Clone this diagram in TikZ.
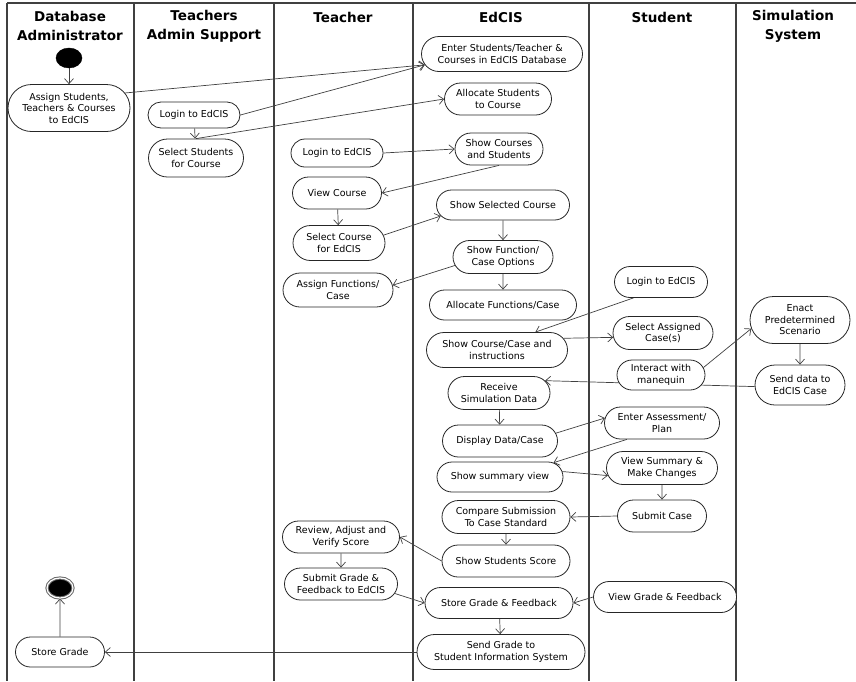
\documentclass[tikz,border=0pt]{standalone}
\usepackage{fontspec}
\setmainfont{DejaVu Sans}
\usetikzlibrary{shapes.misc,shapes.geometric,arrows.meta}
\pgfdeclarelayer{lanes}
\pgfdeclarelayer{edges}
\pgfsetlayers{lanes,edges,main}
\tikzset{
  act/.style args={#1/#2}{rounded rectangle, draw=black!85, line width=0.8pt, fill=white,
    minimum width={#1pt-16pt}, minimum height=#2pt, inner xsep=-8pt, inner ysep=1pt,
    align=center, font=\fontsize{9.5}{11.5}\selectfont},
  hdr/.style={font=\fontsize{13.5}{19}\selectfont\bfseries, align=center, inner sep=0pt},
  flow/.style={draw=black!75, line width=0.7pt, -{Straight Barb[length=5pt,width=9pt]}},
  lane/.style={draw=black!75, line width=1.2pt}
}
\begin{document}
\begin{tikzpicture}[x=1pt,y=-1pt]
\useasboundingbox (0,0) rectangle (856,681);
% headers
\node[hdr] (h1) at (70,26) {Database\\Administrator};
\node[hdr] (h2) at (204,26) {Teachers\\Admin Support};
\node[hdr] (h3) at (343,17) {Teacher};
\node[hdr] (h4) at (501,17) {EdCIS};
\node[hdr] (h5) at (662,17) {Student};
\node[hdr] (h6) at (793,26) {Simulation\\System};
% nodes
\node[ellipse, fill=black, draw=black, minimum width=26pt, minimum height=20pt, inner sep=0pt] (start) at (69,58) {};
\node[act=122/47] (assign) at (69,108) {Assign Students,\\Teachers \& Courses\\to EdCIS};
\node[act=92/26] (tlogin) at (194,115) {Login to EdCIS};
\node[act=95/38] (tsel) at (196,158) {Select Students\\for Course};
\node[act=161/35] (enter) at (502,54) {Enter Students/Teacher \&\\Courses in EdCIS Database};
\node[act=107/32] (alloc) at (498,99) {Allocate Students\\to Course};
\node[act=88/32] (showcs) at (499,149) {Show Courses\\and Students};
\node[act=92/28] (login) at (337,153) {Login to EdCIS};
\node[act=89/32] (view) at (337,193) {View Course};
\node[act=92/35] (selc) at (339,243) {Select Course\\for EdCIS};
\node[act=110/34] (assignf) at (338,290) {Assign Functions/\\Case};
\node[act=133/30] (showsel) at (503,205) {Show Selected Course};
\node[act=100/33] (showfn) at (503,257) {Show Function/\\Case Options};
\node[act=147/30] (allocf) at (503,305) {Allocate Functions/Case};
\node[act=93/31] (slogin) at (661,282) {Login to EdCIS};
\node[act=141/35] (showcc) at (497,350) {Show Course/Case and\\instructions};
\node[act=100/33] (selas) at (663,333) {Select Assigned\\Case(s)};
\node[act=88/30] (interact) at (661,375) {Interact with\\manequin};
\node[act=100/47] (enact) at (800,320) {Enact\\Predetermined\\Scenario};
\node[act=90/40] (senddata) at (800,385) {Send data to\\EdCIS Case};
\node[act=102/33] (receive) at (499,393) {Receive\\Simulation Data};
\node[act=115/32] (display) at (500,441) {Display Data/Case};
\node[act=115/32] (enterass) at (662,423) {Enter Assessment/\\Plan};
\node[act=126/30] (summary) at (500,477) {Show summary view};
\node[act=111/33] (viewsum) at (662,468) {View Summary \&\\Make Changes};
\node[act=89/32] (submit) at (662,516) {Submit Case};
\node[act=128/33] (compare) at (506,517) {Compare Submission\\To Case Standard};
\node[act=128/32] (score) at (506,561) {Show Students Score};
\node[act=117/32] (review) at (341,537) {Review, Adjust and\\Verify Score};
\node[act=113/32] (subgrade) at (341,584) {Submit Grade \&\\Feedback to EdCIS};
\node[act=148/31] (storegf) at (499,603) {Store Grade \& Feedback};
\node[act=143/31] (viewgf) at (665,597) {View Grade \& Feedback};
\node[act=168/35] (sendgrade) at (501,652) {Send Grade to\\Student Information System};
\node[act=89/30] (storeg) at (60,652) {Store Grade};
\node[ellipse, fill=black, draw=black!60, line width=1pt, double=white, double distance=1.2pt,
  minimum width=26pt, minimum height=20pt, inner sep=0pt] (end) at (60,588) {};
% lanes
\begin{pgfonlayer}{lanes}
\draw[lane] (7,3) -- (856,3);
\foreach \lx in {7,134,274,413,589,736} {\draw[lane] (\lx,3) -- (\lx,681);}
\end{pgfonlayer}
% connectors
\begin{pgfonlayer}{edges}
\draw[flow] (start) -- (assign);
\draw[flow] (assign.15) -- (enter.188);
\draw[flow] (tlogin.east) -- (enter.188);
\draw[flow] (tlogin) -- (tsel);
\draw[flow] (tsel.north) -- (alloc.west);
\draw[flow] (login.east) -- (showcs.west);
\draw[flow] (showcs.south) -- (view.east);
\draw[flow] (view) -- (selc);
\draw[flow] (selc.10) -- (showsel.190);
\draw[flow] (showsel) -- (showfn);
\draw[flow] (showfn.190) -- (assignf.5);
\draw[flow] (showfn) -- (allocf);
\draw[flow] (slogin.210) -- (showcc.25);
\draw[flow] (showcc.10) -- (selas.185);
\draw[flow] (interact.10) -- (enact.190);
\draw[flow] (enact) -- (senddata);
\draw[flow] (senddata.182) -- (receive.15);
\draw[flow] (receive) -- (display);
\draw[flow] (display.8) -- (enterass.175);
\draw[flow] (enterass.205) -- (summary.15);
\draw[flow] (summary.5) -- (viewsum.188);
\draw[flow] (viewsum) -- (submit);
\draw[flow] (submit.west) -- (compare.east);
\draw[flow] (compare) -- (score);
\draw[flow] (score.west) -- (review.east);
\draw[flow] (review) -- (subgrade);
\draw[flow] (subgrade.350) -- (storegf.west);
\draw[flow] (viewgf.west) -- (storegf.east);
\draw[flow] (storegf) -- (sendgrade);
\draw[flow] (sendgrade.west) -- (storeg.east);
\draw[flow] (storeg) -- (end);
\end{pgfonlayer}
\end{tikzpicture}
\end{document}
